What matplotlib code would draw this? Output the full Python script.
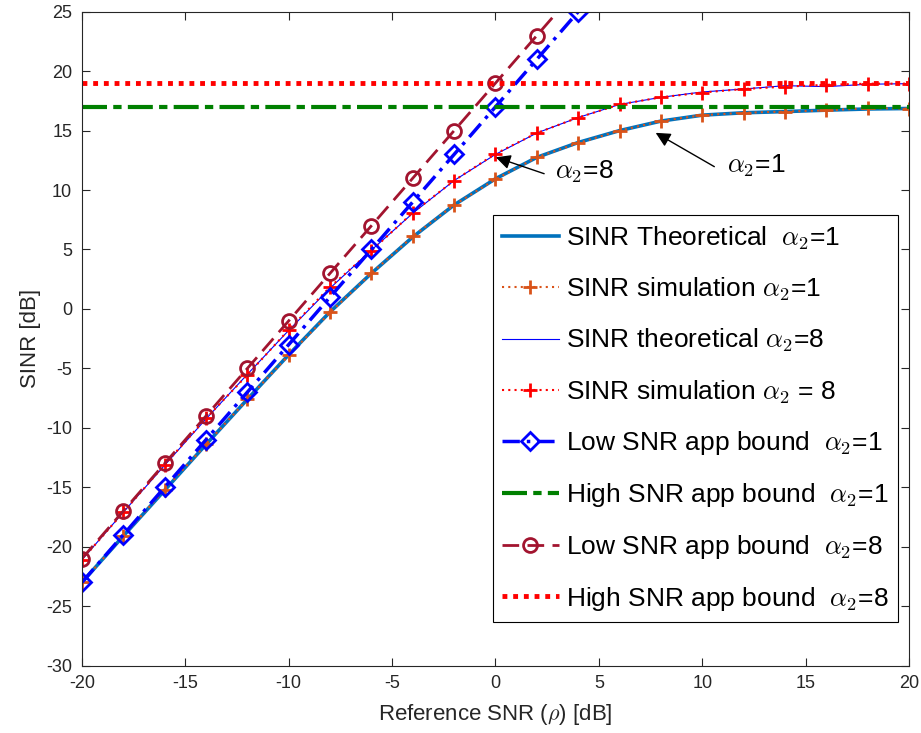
import numpy as np
import matplotlib
matplotlib.use("Agg")
import matplotlib.pyplot as plt

plt.rcParams['font.family'] = ['Liberation Sans', 'DejaVu Sans']
plt.rcParams['mathtext.fontset'] = 'cm'
plt.rcParams['axes.unicode_minus'] = False

# -----------------------------
# data
# -----------------------------
snr = [-20, -18, -16, -14, -12, -10, -8, -6, -4, -2, 0, 2, 4, 6, 8, 10, 12, 14, 16, 18, 20]

sinr_th_a1 = [-23.0, -19.1, -15.25, -11.4, -7.6, -3.85, -0.25, 3.0, 6.05, 8.75, 10.95,
              12.75, 14.0, 15.0, 15.8, 16.3, 16.5, 16.6, 16.72, 16.82, 16.86]
sinr_sim_a1 = [-23.0, -19.1, -15.2, -11.4, -7.6, -3.9, -0.3, 3.0, 6.1, 8.75, 10.9,
               12.75, 13.95, 15.0, 15.8, 16.3, 16.5, 16.6, 16.7, 16.88, 16.85]
sinr_th_a8 = [-21.1, -17.1, -13.15, -9.25, -5.5, -1.8, 1.75, 4.95, 8.05, 10.8, 13.0,
              14.8, 16.1, 17.2, 17.8, 18.25, 18.5, 18.78, 18.7, 18.9, 18.95]
sinr_sim_a8 = [-21.1, -17.1, -13.1, -9.2, -5.55, -1.75, 1.85, 4.9, 8.1, 10.8, 13.05,
               14.8, 16.1, 17.2, 17.8, 18.2, 18.5, 18.7, 18.85, 18.95, 18.95]

snr_low = [-20, -18, -16, -14, -12, -10, -8, -6, -4, -2, 0, 2, 4]
low_a1 = [-23, -19, -15, -11, -7, -3, 1, 5, 9, 13, 17, 21, 25]
low_a8 = [-21, -17, -13, -9, -5, -1, 3, 7, 11, 15, 19, 23, 27]

high_a1 = 17
high_a8 = 19

# matlab default colours
c_blue = (0, 0.447, 0.741)
c_orange = (0.85, 0.325, 0.098)
c_darkred = (0.635, 0.078, 0.184)
c_axes = (0.15, 0.15, 0.15)

# -----------------------------
# figure
# -----------------------------
fig = plt.figure(figsize=(9.21, 7.33), dpi=100)
ax = fig.add_axes([0.089, 0.092, 0.898, 0.892])

ax.plot(snr, sinr_th_a1, color=c_blue, lw=2.6,
        label=r'SINR Theoretical  $\alpha_\mathsf{2}$=1')
ax.plot(snr, sinr_sim_a1, color=c_orange, ls=(0, (1, 2)), lw=1.5, marker='+', ms=10, mew=2,
        label=r'SINR simulation $\alpha_\mathsf{2}$=1')
ax.plot(snr, sinr_th_a8, color='b', lw=0.8,
        label=r'SINR theoretical $\alpha_\mathsf{2}$=8')
ax.plot(snr, sinr_sim_a8, color='r', ls=(0, (1, 2)), lw=1.5, marker='+', ms=10, mew=2,
        label=r'SINR simulation $\alpha_\mathsf{2}$ = 8')
ax.plot(snr_low, low_a1, color='b', ls=(0, (5, 2, 1, 2)), lw=2.5, marker='D', ms=9, mew=2,
        mfc='none', label=r'Low SNR app bound  $\alpha_\mathsf{2}$=1')
ax.axhline(high_a1, color=(0, 0.5, 0), ls=(0, (6, 1.5, 2, 1.5)), lw=3,
           label=r'High SNR app bound  $\alpha_\mathsf{2}$=1')
ax.plot(snr_low, low_a8, color=c_darkred, ls=(0, (6, 3)), lw=2, marker='o', ms=10, mew=2,
        mfc='none', label=r'Low SNR app bound  $\alpha_\mathsf{2}$=8')
ax.axhline(high_a8, color='r', ls=(0, (1, 1.2)), lw=3.5,
           label=r'High SNR app bound  $\alpha_\mathsf{2}$=8')

# arrows + labels
ax.annotate('', xy=(-0.11, 12.83), xytext=(2.48, 11.3),
            arrowprops=dict(arrowstyle='-|>', color='k', lw=1, mutation_scale=22))
ax.text(2.88, 11.0, r'$\alpha_\mathsf{2}$=8', fontsize=19, va='baseline')
ax.annotate('', xy=(7.63, 14.93), xytext=(10.7, 11.85),
            arrowprops=dict(arrowstyle='-|>', color='k', lw=1, mutation_scale=22))
ax.text(11.18, 11.48, r'$\alpha_\mathsf{2}$=1', fontsize=19, va='baseline')

ax.set_xlim(-20, 20)
ax.set_ylim(-30, 25)
ax.set_xticks(range(-20, 21, 5))
ax.set_yticks(range(-30, 26, 5))
ax.tick_params(direction='in', top=True, right=True, labelsize=13, colors=c_axes,
               length=6, pad=7)
for s in ax.spines.values():
    s.set_color(c_axes)
ax.set_xlabel(r'Reference SNR ($\rho$) [dB]', fontsize=16, color=c_axes, labelpad=7)
ax.set_ylabel('SINR [dB]', fontsize=16, color=c_axes)

leg = ax.legend(loc='lower right', bbox_to_anchor=(0.987, 0.067), borderaxespad=0,
                fontsize=19, handlelength=2.15, labelspacing=0.9, fancybox=False,
                framealpha=1, edgecolor='k', handletextpad=0.3, borderpad=0.35)
leg.get_frame().set_linewidth(0.8)

fig.savefig('out.png', dpi=100)
